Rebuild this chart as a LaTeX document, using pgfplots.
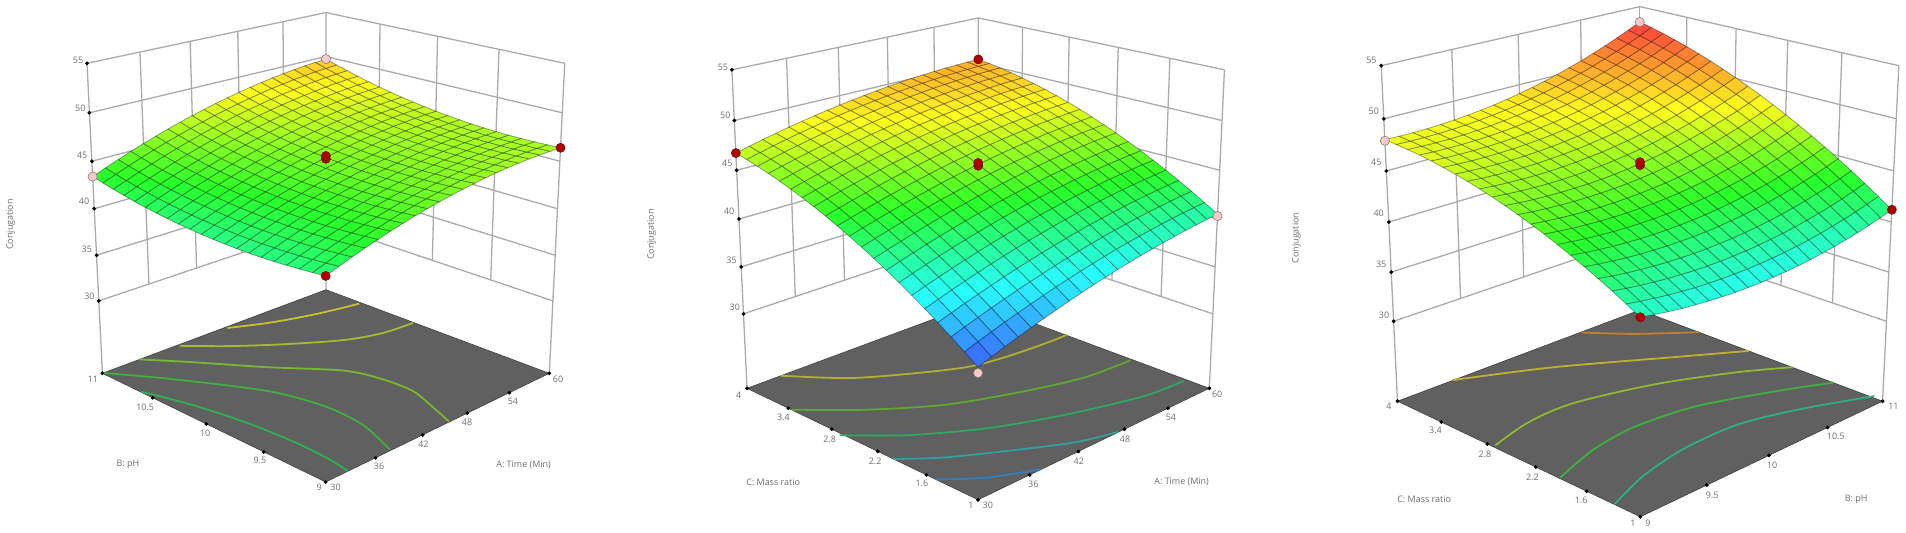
\documentclass[border=0pt]{standalone}
\usepackage{pgfplots}
\pgfplotsset{compat=1.18}
\usepackage{fontspec}
\setmainfont{Open Sans}
\definecolor{wallc}{HTML}{ABABAB}
\definecolor{floorc}{HTML}{606060}
\definecolor{lblc}{HTML}{6E6E6E}
\definecolor{redpt}{HTML}{B00000}
\definecolor{pinkpt}{HTML}{FFC8C8}
\pgfplotsset{
 table/uvz/.style={row sep=\\,header=false,
  x expr={pX(\thisrowno{0},\thisrowno{1},\thisrowno{2})},
  y expr={pY(\thisrowno{0},\thisrowno{1},\thisrowno{2})}},
 table/grd/.style={row sep=\\,header=false,
  x expr={pX((\coordindex-#1*floor((\coordindex+0.5)/#1))/(#1-1),floor((\coordindex+0.5)/#1)/(#1-1),\thisrowno{0})},
  y expr={pY((\coordindex-#1*floor((\coordindex+0.5)/#1))/(#1-1),floor((\coordindex+0.5)/#1)/(#1-1),\thisrowno{0})},
  meta expr=\thisrowno{0}},
 base/.style={at={(0,0)},anchor=south west,scale only axis,width=1906bp,height=533bp,
  xmin=0,xmax=1906,ymin=0,ymax=533,y dir=reverse,axis lines=none,clip=false,
  colormap={de}{rgb255=(64,64,255) rgb255=(40,255,255) rgb255=(40,255,40) rgb255=(255,255,30) rgb255=(255,70,60)},
  point meta min=34,point meta max=53},
 wall/.style={wallc,line width=1.3bp,no marks},
 sfc/.style={surf,shader=faceted,faceted color=black,draw opacity=.36,line width=0.8bp,point meta=explicit,mesh/cols=#1},
 red pts/.style={only marks,mark=*,mark size=4.6bp,mark options={fill=redpt,draw=red!40!black,line width=.4bp}},
 pink pts/.style={only marks,mark=*,mark size=4.6bp,mark options={fill=pinkpt,draw=gray,line width=.6bp}},
 dots/.style={only marks,mark=*,mark size=1.7bp,mark options={fill=black,draw=black}},
 ct/.style={line width=1.8bp,smooth,no marks},
}
\tikzset{t/.style={font=\fontsize{9}{10}\selectfont,text=lblc,inner sep=0pt}}
\newcommand\labs[1]{\foreach \x/\y/\s in {#1}{\edef\tmp{\noexpand\node[t] at (axis cs:\x,\y) {\s};}\tmp}}
\newcommand\walls[3]{%
 \pgfplotsinvokeforeach{30,35,40,45,50,55}{\addplot[wall] table[uvz]{0 1 ##1\\1 1 ##1\\1 0 ##1\\};}
 \pgfplotsinvokeforeach{#1}{\addplot[wall] table[uvz]{##1 1 30\\##1 1 55\\};}
 \pgfplotsinvokeforeach{#2}{\addplot[wall] table[uvz]{1 ##1 30\\1 ##1 55\\};}
 \addplot[wall] table[uvz]{0 1 #3\\0 1 55\\};
 \addplot[wall] table[uvz]{1 0 #3\\1 0 55\\};
 \addplot[wall] table[uvz]{1 1 #3\\1 1 55\\};
 \addplot[fill=floorc,draw=floorc!70!black,line width=.6bp] table[uvz]{0 0 #3\\1 0 #3\\1 1 #3\\0 1 #3\\0 0 #3\\};
}
\begin{document}
\begin{tikzpicture}
\path[use as bounding box] (0,0) rectangle (1906bp,533bp);
%---- panel 1
\begin{axis}[base,declare function={
 pW(\z)=(\z-21.85)/33.15;
 pD(\u,\v,\z)=1+0.15*\u+0.15*\v-0.0742*pW(\z);
 pX(\u,\v,\z)=(325.7+306.0*\u-207.94*\v-0.0742*pW(\z)*325.7)/pD(\u,\v,\z);
 pY(\u,\v,\z)=(482-52.7*\u-52.7*\v-0.0742*pW(\z)*4868)/pD(\u,\v,\z);}]
\walls{.2,.4,.6,.8}{.25,.5,.75}{21.85}
\addplot[dots] table[uvz]{0 1 30\\0 1 35\\0 1 40\\0 1 45\\0 1 50\\0 1 55\\0 1 21.85\\0 .75 21.85\\0 .5 21.85\\0 .25 21.85\\0 0 21.85\\.2 0 21.85\\.4 0 21.85\\.6 0 21.85\\.8 0 21.85\\1 0 21.85\\};
\addplot[ct,color={rgb,255:red,200;green,192;blue,48}] coordinates {(227.4,328)(267.5,323)(305.8,316.2)(336.3,309.4)(359.3,303.6)};
\addplot[ct,color={rgb,255:red,168;green,184;blue,48}] coordinates {(179.6,345.8)(229.3,346.1)(286.7,344.1)(344,340)(382.2,333.2)(412.8,323)};
\addplot[ct,color={rgb,255:red,120;green,184;blue,48}] coordinates {(139.5,359.4)(191.1,362.1)(267.5,367.2)(344,370.6)(382.2,379.1)(412.8,391)(431.9,406.3)(449.1,421.6)};
\addplot[ct,color={rgb,255:red,64;green,176;blue,64}] coordinates {(103.2,373)(172,379.1)(267.5,391)(324.9,406.3)(363.1,425)(389.8,449.5)};
\addplot[ct,color={rgb,255:red,48;green,176;blue,80}] coordinates {(141.4,391.7)(191.1,404.6)(248.4,423.3)(298.1,443.7)(328.7,459)(347.8,470.9)};
\addplot[pink pts] table[uvz]{0 1 43.4\\1 1 49.7\\};
\addplot[sfc=21] table[grd=21]{41.9\\42.35\\42.78\\43.19\\43.57\\43.93\\44.26\\44.57\\44.85\\45.11\\45.35\\45.56\\45.75\\45.92\\46.06\\46.18\\46.27\\46.34\\46.38\\46.40\\46.40\\41.76\\42.21\\42.65\\43.06\\43.44\\43.80\\44.14\\44.45\\44.74\\45.01\\45.25\\45.47\\45.66\\45.83\\45.98\\46.10\\46.20\\46.27\\46.32\\46.34\\46.35\\41.64\\42.10\\42.54\\42.95\\43.34\\43.71\\44.05\\44.37\\44.66\\44.93\\45.18\\45.40\\45.60\\45.77\\45.92\\46.05\\46.15\\46.23\\46.28\\46.31\\46.32\\41.54\\42.00\\42.45\\42.87\\43.26\\43.63\\43.98\\44.30\\44.60\\44.87\\45.12\\45.35\\45.55\\45.73\\45.89\\46.02\\46.12\\46.20\\46.26\\46.30\\46.31\\41.46\\41.94\\42.38\\42.81\\43.20\\43.58\\43.93\\44.26\\44.56\\44.84\\45.09\\45.33\\45.53\\45.72\\45.87\\46.01\\46.12\\46.21\\46.27\\46.31\\46.32\\41.41\\41.89\\42.34\\42.77\\43.17\\43.55\\43.91\\44.24\\44.54\\44.83\\45.09\\45.32\\45.53\\45.72\\45.89\\46.03\\46.14\\46.23\\46.30\\46.34\\46.36\\41.38\\41.86\\42.32\\42.75\\43.16\\43.54\\43.90\\44.24\\44.55\\44.84\\45.10\\45.34\\45.56\\45.75\\45.92\\46.06\\46.18\\46.28\\46.35\\46.40\\46.42\\41.38\\41.86\\42.32\\42.76\\43.17\\43.56\\43.93\\44.27\\44.58\\44.87\\45.14\\45.39\\45.61\\45.80\\45.98\\46.13\\46.25\\46.35\\46.43\\46.48\\46.51\\41.40\\41.89\\42.35\\42.79\\43.21\\43.60\\43.97\\44.32\\44.64\\44.93\\45.21\\45.46\\45.68\\45.88\\46.06\\46.21\\46.34\\46.45\\46.53\\46.58\\46.62\\41.44\\41.93\\42.40\\42.84\\43.27\\43.66\\44.04\\44.39\\44.71\\45.01\\45.29\\45.55\\45.77\\45.98\\46.16\\46.32\\46.45\\46.56\\46.65\\46.71\\46.75\\41.5\\42.00\\42.47\\42.92\\43.35\\43.75\\44.13\\44.48\\44.81\\45.12\\45.4\\45.66\\45.89\\46.10\\46.29\\46.45\\46.59\\46.70\\46.79\\46.86\\46.90\\41.59\\42.09\\42.57\\43.02\\43.45\\43.86\\44.24\\44.60\\44.93\\45.25\\45.53\\45.79\\46.03\\46.25\\46.44\\46.60\\46.75\\46.87\\46.96\\47.03\\47.08\\41.70\\42.20\\42.69\\43.15\\43.58\\43.99\\44.38\\44.74\\45.08\\45.40\\45.69\\45.95\\46.20\\46.42\\46.61\\46.78\\46.93\\47.05\\47.15\\47.23\\47.28\\41.83\\42.34\\42.83\\43.29\\43.73\\44.15\\44.54\\44.91\\45.25\\45.57\\45.86\\46.14\\46.38\\46.61\\46.81\\46.98\\47.13\\47.26\\47.36\\47.44\\47.50\\41.98\\42.50\\42.99\\43.46\\43.90\\44.32\\44.72\\45.09\\45.44\\45.76\\46.06\\46.34\\46.59\\46.82\\47.02\\47.20\\47.36\\47.49\\47.60\\47.68\\47.74\\42.16\\42.68\\43.18\\43.65\\44.10\\44.52\\44.93\\45.30\\45.65\\45.98\\46.29\\46.57\\46.82\\47.06\\47.27\\47.45\\47.61\\47.75\\47.86\\47.95\\48.01\\42.36\\42.89\\43.39\\43.87\\44.32\\44.75\\45.15\\45.54\\45.89\\46.23\\46.53\\46.82\\47.08\\47.32\\47.53\\47.72\\47.88\\48.03\\48.14\\48.24\\48.30\\42.59\\43.12\\43.62\\44.10\\44.56\\45.00\\45.41\\45.79\\46.15\\46.49\\46.80\\47.09\\47.36\\47.60\\47.82\\48.01\\48.18\\48.33\\48.45\\48.55\\48.62\\42.84\\43.37\\43.88\\44.37\\44.83\\45.27\\45.68\\46.07\\46.44\\46.78\\47.10\\47.39\\47.66\\47.91\\48.13\\48.33\\48.50\\48.65\\48.78\\48.88\\48.96\\43.11\\43.64\\44.16\\44.65\\45.12\\45.56\\45.98\\46.37\\46.74\\47.09\\47.41\\47.71\\47.98\\48.24\\48.46\\48.66\\48.84\\49.00\\49.13\\49.23\\49.32\\43.40\\43.94\\44.46\\44.96\\45.43\\45.88\\46.30\\46.70\\47.07\\47.42\\47.75\\48.05\\48.33\\48.59\\48.82\\49.03\\49.21\\49.37\\49.50\\49.61\\49.70\\};
\addplot[red pts] table[uvz]{0 0 41.9\\1 0 46.4\\.5 .5 45.25\\.5 .5 45.55\\};
\labs{78/60.5/55,80.3/108.1/50,82.2/155/45,84.1/201.6/40,86.8/248.9/35,89.4/295.8/30,92.9/379/11,145.2/407.3/10.5,205.2/433.5/10,259.9/460.7/9.5,319.1/487.2/9,335.6/487.2/30,379.1/466.5/36,423.4/444.4/42,467.1/422.3/48,512.9/401.2/54,558/379/60}
\node[t] at (axis cs:128,464.8) {B: pH};
\node[t] at (axis cs:523.6,464.8) {A: Time (Min)};
\node[t,rotate=90] at (axis cs:10.7,224.4) {Conjugation};
\end{axis}
%---- panel 2
\begin{axis}[base,declare function={
 pW(\z)=(\z-21.87)/33.13;
 pD(\u,\v,\z)=1+0.15*\u+0.15*\v-0.0706*pW(\z);
 pX(\u,\v,\z)=(978+412.7*\u-118.95*\v-0.0706*pW(\z)*978)/pD(\u,\v,\z);
 pY(\u,\v,\z)=(499.8-53.26*\u-53.26*\v-0.0706*pW(\z)*5258)/pD(\u,\v,\z);}]
\walls{.2,.4,.6,.8}{.2,.4,.6,.8}{21.87}
\addplot[dots] table[uvz]{0 1 30\\0 1 35\\0 1 40\\0 1 45\\0 1 50\\0 1 55\\0 1 21.87\\0 .8 21.87\\0 .6 21.87\\0 .4 21.87\\0 .2 21.87\\0 0 21.87\\.2 0 21.87\\.4 0 21.87\\.6 0 21.87\\.8 0 21.87\\1 0 21.87\\};
\addplot[ct,color={rgb,255:red,176;green,176;blue,48}] coordinates {(780.3,375.7)(847.5,378.1)(906.8,374)(966.1,367.2)(1005.6,357)(1045.2,343.4)(1066.9,334.9)};
\addplot[ct,color={rgb,255:red,96;green,168;blue,48}] coordinates {(792.1,409.7)(867.2,409.7)(946.3,404.6)(1025.4,391)(1084.7,377.4)(1130.2,360.4)};
\addplot[ct,color={rgb,255:red,48;green,168;blue,96}] coordinates {(839.6,435.2)(906.8,435.2)(985.9,428.4)(1064.9,414.8)(1144,396.1)(1183.6,380.8)};
\addplot[ct,color={rgb,255:red,48;green,160;blue,160}] coordinates {(892.9,459)(946.3,457.3)(1025.4,448.8)(1076.8,442)(1118.3,431.8)};
\addplot[ct,color={rgb,255:red,48;green,128;blue,192}] coordinates {(936.4,479.4)(985.9,477.7)(1041.2,469.2)};
\addplot[pink pts] table[uvz]{0 0 34.05\\1 0 40.3\\};
\addplot[sfc=21] table[grd=21]{34.60\\35.06\\35.50\\35.92\\36.32\\36.71\\37.08\\37.44\\37.78\\38.10\\38.40\\38.69\\38.96\\39.21\\39.44\\39.66\\39.86\\40.05\\40.22\\40.37\\40.50\\35.53\\35.98\\36.41\\36.83\\37.23\\37.61\\37.98\\38.33\\38.66\\38.97\\39.27\\39.55\\39.82\\40.06\\40.29\\40.50\\40.70\\40.88\\41.04\\41.19\\41.31\\36.42\\36.87\\37.30\\37.71\\38.10\\38.48\\38.84\\39.18\\39.51\\39.82\\40.11\\40.39\\40.64\\40.89\\41.11\\41.32\\41.51\\41.68\\41.84\\41.98\\42.10\\37.28\\37.72\\38.15\\38.55\\38.94\\39.31\\39.67\\40.00\\40.32\\40.63\\40.92\\41.18\\41.44\\41.67\\41.89\\42.09\\42.28\\42.45\\42.60\\42.73\\42.85\\38.11\\38.54\\38.96\\39.36\\39.74\\40.11\\40.46\\40.79\\41.11\\41.40\\41.69\\41.95\\42.20\\42.43\\42.64\\42.84\\43.02\\43.18\\43.32\\43.45\\43.56\\38.90\\39.33\\39.74\\40.14\\40.51\\40.88\\41.22\\41.55\\41.85\\42.15\\42.42\\42.68\\42.92\\43.15\\43.35\\43.55\\43.72\\43.88\\44.01\\44.14\\44.24\\39.66\\40.08\\40.49\\40.88\\41.25\\41.61\\41.94\\42.27\\42.57\\42.86\\43.13\\43.38\\43.61\\43.83\\44.04\\44.22\\44.39\\44.54\\44.67\\44.79\\44.89\\40.39\\40.80\\41.20\\41.59\\41.95\\42.30\\42.64\\42.95\\43.25\\43.53\\43.80\\44.04\\44.27\\44.49\\44.68\\44.86\\45.02\\45.17\\45.30\\45.41\\45.50\\41.08\\41.49\\41.88\\42.26\\42.62\\42.97\\43.29\\43.60\\43.90\\44.17\\44.43\\44.67\\44.90\\45.10\\45.30\\45.47\\45.62\\45.77\\45.89\\46.00\\46.08\\41.74\\42.14\\42.53\\42.90\\43.26\\43.60\\43.92\\44.22\\44.51\\44.78\\45.03\\45.27\\45.49\\45.69\\45.87\\46.04\\46.19\\46.33\\46.44\\46.55\\46.63\\42.36\\42.76\\43.14\\43.51\\43.86\\44.19\\44.51\\44.81\\45.09\\45.35\\45.60\\45.83\\46.04\\46.24\\46.42\\46.58\\46.73\\46.86\\46.97\\47.06\\47.14\\42.95\\43.34\\43.72\\44.08\\44.43\\44.75\\45.06\\45.36\\45.63\\45.89\\46.13\\46.36\\46.57\\46.76\\46.93\\47.09\\47.23\\47.35\\47.46\\47.55\\47.62\\43.51\\43.90\\44.27\\44.62\\44.96\\45.28\\45.59\\45.87\\46.14\\46.40\\46.63\\46.85\\47.06\\47.24\\47.41\\47.56\\47.70\\47.81\\47.91\\48.00\\48.06\\44.03\\44.41\\44.78\\45.13\\45.46\\45.78\\46.08\\46.36\\46.62\\46.87\\47.10\\47.31\\47.51\\47.69\\47.85\\48.00\\48.13\\48.24\\48.33\\48.41\\48.47\\44.52\\44.90\\45.26\\45.60\\45.93\\46.24\\46.53\\46.81\\47.07\\47.31\\47.53\\47.74\\47.93\\48.11\\48.26\\48.40\\48.53\\48.63\\48.72\\48.80\\48.85\\44.97\\45.35\\45.70\\46.04\\46.36\\46.67\\46.95\\47.22\\47.48\\47.71\\47.93\\48.14\\48.32\\48.49\\48.64\\48.78\\48.89\\49.00\\49.08\\49.14\\49.19\\45.39\\45.76\\46.11\\46.44\\46.76\\47.06\\47.34\\47.61\\47.85\\48.08\\48.30\\48.49\\48.67\\48.84\\48.98\\49.11\\49.22\\49.32\\49.40\\49.46\\49.50\\45.78\\46.14\\46.49\\46.81\\47.12\\47.42\\47.69\\47.95\\48.20\\48.42\\48.63\\48.82\\49.00\\49.15\\49.29\\49.42\\49.52\\49.61\\49.68\\49.74\\49.78\\46.13\\46.49\\46.83\\47.15\\47.45\\47.74\\48.01\\48.27\\48.50\\48.72\\48.93\\49.11\\49.28\\49.43\\49.57\\49.68\\49.79\\49.87\\49.94\\49.99\\50.02\\46.45\\46.80\\47.14\\47.45\\47.75\\48.03\\48.30\\48.55\\48.78\\48.99\\49.19\\49.37\\49.53\\49.68\\49.81\\49.92\\50.02\\50.09\\50.15\\50.20\\50.23\\46.74\\47.08\\47.41\\47.72\\48.02\\48.29\\48.55\\48.79\\49.02\\49.23\\49.42\\49.59\\49.75\\49.89\\50.02\\50.12\\50.21\\50.29\\50.34\\50.38\\50.40\\};
\addplot[red pts] table[uvz]{0 1 46.74\\1 1 50.4\\.5 .5 45.45\\.5 .5 45.75\\};
\labs{722.9/67/55,725.3/114.9/50,727.3/163.2/45,729.2/211.5/40,731.6/260.1/35,734.8/307.7/30,738.7/395.4/4,783.4/417.5/3.4,829.7/439.3/2.8,875.1/461.4/2.2,921.8/483.5/1.6,970.8/505.6/1,987.8/505.6/30,1033.3/483.8/36,1078.8/461.4/42,1125/439.3/48,1170.9/417.5/54,1217.2/394.4/60}
\node[t] at (axis cs:773.1,482.1) {C: Mass ratio};
\node[t] at (axis cs:1181.6,482.1) {A: Time (Min)};
\node[t,rotate=90] at (axis cs:651.7,234.6) {Conjugation};
\end{axis}
%---- panel 3
\begin{axis}[base,declare function={
 pW(\z)=(\z-21.66)/33.34;
 pD(\u,\v,\z)=1+0.134*\u+0.134*\v-0.0712*pW(\z);
 pX(\u,\v,\z)=(1640.3+494.5*\u-55.6*\v-0.0712*pW(\z)*1640)/pD(\u,\v,\z);
 pY(\u,\v,\z)=(516.8-61.84*\u-61.84*\v-0.0712*pW(\z)*5410)/pD(\u,\v,\z);}]
\walls{.25,.5,.75}{.2,.4,.6,.8}{21.66}
\addplot[dots] table[uvz]{0 1 30\\0 1 35\\0 1 40\\0 1 45\\0 1 50\\0 1 55\\0 1 21.66\\0 .8 21.66\\0 .6 21.66\\0 .4 21.66\\0 .2 21.66\\0 0 21.66\\.25 0 21.66\\.5 0 21.66\\.75 0 21.66\\1 0 21.66\\};
\addplot[ct,color={rgb,255:red,192;green,128;blue,48}] coordinates {(1581.5,332.5)(1635,333.9)(1699.1,332.2)};
\addplot[ct,color={rgb,255:red,192;green,176;blue,48}] coordinates {(1452.5,380.1)(1553.9,367.2)(1675.6,357)(1748.6,350.9)};
\addplot[ct,color={rgb,255:red,144;green,184;blue,48}] coordinates {(1495.1,445.4)(1529.6,421.6)(1574.2,402.9)(1655.3,384.2)(1736.4,372.3)(1793.2,367.2)};
\addplot[ct,color={rgb,255:red,64;green,176;blue,64}] coordinates {(1560,477.7)(1594.5,448.8)(1635,426.7)(1695.9,406.3)(1777,391)(1833.8,382.5)};
\addplot[ct,color={rgb,255:red,48;green,176;blue,128}] coordinates {(1614.8,503.9)(1643.2,476)(1683.7,448.8)(1736.4,425)(1797.3,409.7)(1874.3,396.1)};
\addplot[pink pts] table[uvz]{0 1 47.9\\1 1 53.4\\};
\addplot[sfc=21] table[grd=21]{40.01\\39.77\\39.55\\39.37\\39.23\\39.11\\39.03\\38.97\\38.95\\38.97\\39.01\\39.09\\39.19\\39.33\\39.51\\39.71\\39.95\\40.21\\40.51\\40.85\\41.21\\40.72\\40.49\\40.29\\40.12\\39.98\\39.87\\39.80\\39.76\\39.75\\39.77\\39.83\\39.91\\40.03\\40.18\\40.36\\40.58\\40.83\\41.10\\41.41\\41.76\\42.13\\41.40\\41.18\\40.99\\40.83\\40.70\\40.61\\40.54\\40.51\\40.51\\40.55\\40.61\\40.71\\40.84\\41.00\\41.19\\41.42\\41.67\\41.96\\42.28\\42.64\\43.02\\42.05\\41.83\\41.65\\41.50\\41.39\\41.30\\41.25\\41.23\\41.24\\41.29\\41.36\\41.47\\41.61\\41.78\\41.98\\42.22\\42.49\\42.79\\43.12\\43.48\\43.88\\42.66\\42.46\\42.29\\42.15\\42.04\\41.97\\41.93\\41.92\\41.94\\41.99\\42.08\\42.20\\42.35\\42.53\\42.74\\42.99\\43.27\\43.58\\43.92\\44.29\\44.70\\43.24\\43.05\\42.89\\42.76\\42.67\\42.60\\42.57\\42.57\\42.60\\42.67\\42.77\\42.89\\43.05\\43.25\\43.47\\43.73\\44.02\\44.34\\44.69\\45.07\\45.49\\43.79\\43.61\\43.46\\43.34\\43.26\\43.20\\43.18\\43.19\\43.24\\43.31\\43.42\\43.56\\43.73\\43.93\\44.17\\44.43\\44.73\\45.06\\45.43\\45.82\\46.25\\44.30\\44.13\\43.99\\43.89\\43.81\\43.77\\43.76\\43.78\\43.83\\43.92\\44.04\\44.19\\44.37\\44.58\\44.83\\45.10\\45.41\\45.76\\46.13\\46.53\\46.97\\44.78\\44.62\\44.50\\44.40\\44.34\\44.30\\44.30\\44.34\\44.40\\44.50\\44.62\\44.78\\44.98\\45.20\\45.46\\45.74\\46.06\\46.42\\46.80\\47.22\\47.66\\45.23\\45.08\\44.97\\44.88\\44.83\\44.81\\44.82\\44.86\\44.93\\45.04\\45.18\\45.35\\45.55\\45.79\\46.05\\46.35\\46.68\\47.04\\47.44\\47.87\\48.32\\45.65\\45.51\\45.40\\45.33\\45.29\\45.28\\45.30\\45.35\\45.43\\45.55\\45.70\\45.88\\46.09\\46.34\\46.62\\46.93\\47.27\\47.64\\48.04\\48.48\\48.95\\46.03\\45.91\\45.81\\45.74\\45.71\\45.71\\45.74\\45.81\\45.90\\46.03\\46.19\\46.38\\46.60\\46.86\\47.15\\47.47\\47.82\\48.20\\48.62\\49.06\\49.54\\46.38\\46.27\\46.18\\46.13\\46.10\\46.11\\46.16\\46.23\\46.34\\46.47\\46.64\\46.85\\47.08\\47.35\\47.64\\47.97\\48.34\\48.73\\49.16\\49.61\\50.10\\46.70\\46.59\\46.52\\46.48\\46.46\\46.48\\46.54\\46.62\\46.74\\46.89\\47.07\\47.28\\47.52\\47.80\\48.11\\48.45\\48.82\\49.23\\49.66\\50.13\\50.63\\46.99\\46.89\\46.83\\46.79\\46.79\\46.82\\46.89\\46.98\\47.11\\47.27\\47.46\\47.68\\47.94\\48.22\\48.54\\48.89\\49.28\\49.69\\50.14\\50.62\\51.13\\47.24\\47.15\\47.10\\47.08\\47.09\\47.13\\47.20\\47.31\\47.44\\47.61\\47.82\\48.05\\48.31\\48.61\\48.94\\49.30\\49.70\\50.12\\50.58\\51.07\\51.59\\47.46\\47.38\\47.34\\47.33\\47.35\\47.40\\47.48\\47.60\\47.75\\47.93\\48.14\\48.38\\48.66\\48.97\\49.31\\49.68\\50.08\\50.52\\50.99\\51.49\\52.02\\47.65\\47.58\\47.55\\47.55\\47.58\\47.64\\47.73\\47.86\\48.02\\48.21\\48.43\\48.69\\48.97\\49.29\\49.64\\50.02\\50.44\\50.88\\51.36\\51.87\\52.42\\47.80\\47.75\\47.72\\47.73\\47.77\\47.85\\47.95\\48.09\\48.26\\48.46\\48.69\\48.96\\49.25\\49.58\\49.94\\50.34\\50.76\\51.22\\51.71\\52.23\\52.78\\47.92\\47.88\\47.87\\47.89\\47.94\\48.02\\48.14\\48.28\\48.46\\48.67\\48.92\\49.19\\49.50\\49.84\\50.21\\50.61\\51.05\\51.52\\52.02\\52.55\\53.11\\48.01\\47.98\\47.97\\48.00\\48.07\\48.16\\48.29\\48.44\\48.63\\48.86\\49.11\\49.40\\49.71\\50.06\\50.45\\50.86\\51.31\\51.79\\52.30\\52.84\\53.41\\};
\addplot[red pts] table[uvz]{0 0 40.01\\1 0 41.21\\.5 .5 45.55\\.5 .5 45.85\\};
\labs{1371.4/60.2/55,1373.8/111.5/50,1376.3/162.5/45,1378.7/213.5/40,1381.1/264.5/35,1384/315.2/30,1388.8/406.3/4,1435.5/430.1/3.4,1485/453.9/2.8,1532.4/477/2.2,1581.1/500.5/1.6,1633/523.6/1,1648/523.6/9,1712.1/495.4/9.5,1772.1/465.1/10,1835.8/435.9/10.5,1893.4/406.3/11}
\node[t] at (axis cs:1424.1,499.1) {C: Mass ratio};
\node[t] at (axis cs:1856.1,499.1) {B: pH};
\node[t,rotate=90] at (axis cs:1296.4,238) {Conjugation};
\end{axis}
\end{tikzpicture}
\end{document}
